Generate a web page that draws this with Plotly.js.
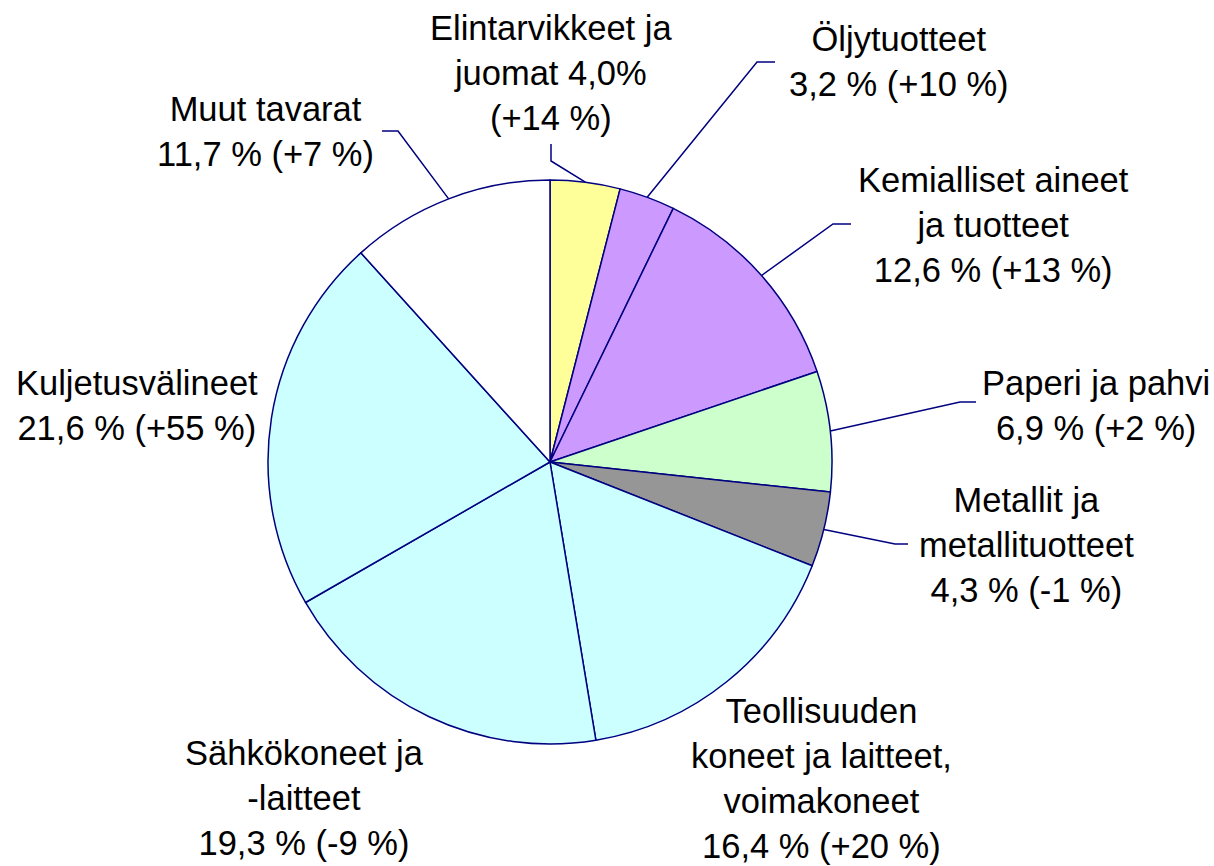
<!DOCTYPE html>
<html>
<head>
<meta charset="utf-8">
<script src="https://cdn.plot.ly/plotly-3.0.1.min.js"></script>
<style>html,body{margin:0;padding:0;background:#fff;}#chart{width:1214px;height:866px;}</style>
</head>
<body>
<div id="chart"></div>
<script>
// ---- data ----
const categories = [
  "Elintarvikkeet ja juomat",
  "Öljytuotteet",
  "Kemialliset aineet ja tuotteet",
  "Paperi ja pahvi",
  "Metallit ja metallituotteet",
  "Teollisuuden koneet ja laitteet, voimakoneet",
  "Sähkökoneet ja -laitteet",
  "Kuljetusvälineet",
  "Muut tavarat"
];
const shares = [4.0, 3.2, 12.6, 6.9, 4.3, 16.4, 19.3, 21.6, 11.7];
const changes = ["+14 %", "+10 %", "+13 %", "+2 %", "-1 %", "+20 %", "-9 %", "+55 %", "+7 %"];
const labelTexts = [
  "Elintarvikkeet ja<br>juomat 4,0%<br>(+14 %)",
  "Öljytuotteet<br>3,2 % (+10 %)",
  "Kemialliset aineet<br>ja tuotteet<br>12,6 % (+13 %)",
  "Paperi ja pahvi<br>6,9 % (+2 %)",
  "Metallit ja<br>metallituotteet<br>4,3 % (-1 %)",
  "Teollisuuden<br>koneet ja laitteet,<br>voimakoneet<br>16,4 % (+20 %)",
  "Sähkökoneet ja<br>-laitteet<br>19,3 % (-9 %)",
  "Kuljetusvälineet<br>21,6 % (+55 %)",
  "Muut tavarat<br>11,7 % (+7 %)"
];
const colors = ["#FFFF99", "#CC99FF", "#CC99FF", "#CCFFCC", "#969696", "#CCFFFF", "#CCFFFF", "#CCFFFF", "#FFFFFF"];

// ---- layout config (pixels) ----
const W = 1214, H = 866;
const CX = 550, CY = 462, R = 282;
const labelPos = [[551, 73], [899, 62], [993, 225], [1096, 406], [1026, 545], [821, 778], [304, 798], [137, 405], [265, 131]];
// leader lines: [elbow, end] or null
const leaders = [
  [[551, 161], [551, 144]],
  [[757, 62], [775, 62]],
  [[833, 224], [851, 224]],
  [[960, 402], [976, 402]],
  [[895, 544], [908, 544]],
  null, null, null,
  [[398, 131], [382, 131]]
];

const px = x => x / W;
const py = y => 1 - y / H;

const total = shares.reduce((a, b) => a + b, 0);
let cum = 0;
const shapes = [];
shares.forEach((v, i) => {
  const mid = (cum + v / 2) / total * 2 * Math.PI;
  cum += v;
  const L = leaders[i];
  if (!L) return;
  const sx = CX + R * Math.sin(mid), sy = CY - R * Math.cos(mid);
  shapes.push({
    type: 'path', xref: 'paper', yref: 'paper',
    path: `M ${px(sx)} ${py(sy)} L ${px(L[0][0])} ${py(L[0][1])} L ${px(L[1][0])} ${py(L[1][1])}`,
    line: {color: '#000080', width: 1.5}
  });
});

const annotations = labelTexts.map((t, i) => ({
  text: t, xref: 'paper', yref: 'paper',
  x: px(labelPos[i][0]), y: py(labelPos[i][1]),
  xanchor: 'center', yanchor: 'middle', align: 'center', showarrow: false,
  font: {family: 'Liberation Sans, Arial, sans-serif', size: 34.5, color: '#000'}
}));

const trace = {
  type: 'pie', labels: categories, values: shares, sort: false,
  direction: 'clockwise', rotation: 0,
  marker: {colors: colors, line: {color: '#000080', width: 1.5}},
  textinfo: 'none', hoverinfo: 'none', showlegend: false,
  domain: {x: [px(CX - R), px(CX + R)], y: [py(CY + R), py(CY - R)]}
};

Plotly.newPlot('chart', [trace], {
  width: W, height: H, margin: {l: 0, r: 0, t: 0, b: 0},
  paper_bgcolor: '#fff', plot_bgcolor: '#fff', showlegend: false,
  shapes: shapes, annotations: annotations
}, {displayModeBar: false, staticPlot: true});
</script>
</body>
</html>
